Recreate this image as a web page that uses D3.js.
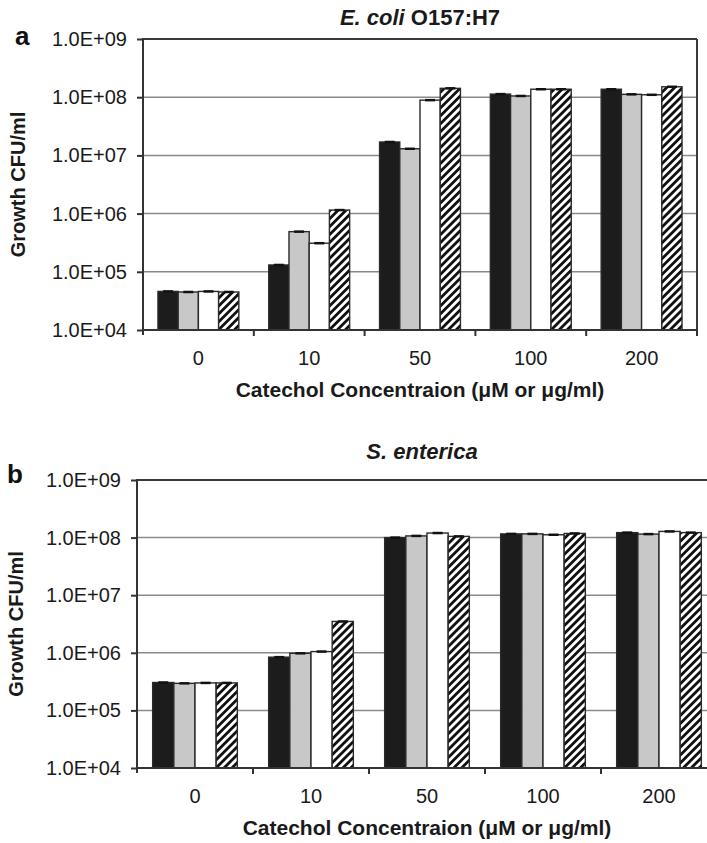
<!DOCTYPE html>
<html>
<head>
<meta charset="utf-8">
<script src="https://cdn.jsdelivr.net/npm/d3@7"></script>
<style>
  body { margin: 0; background: #fff; }
  svg { display: block; font-family: "Liberation Sans", Arial, sans-serif; }
</style>
</head>
<body>
<svg id="chart" width="707" height="843"></svg>
<script>
// categories (catechol concentration)
const concentrations = ["0", "10", "50", "100", "200"];
const yTicks = [1e4, 1e5, 1e6, 1e7, 1e8, 1e9];

// E. coli O157:H7, one array per bar series
const ecoliBlack   = [4.6e4, 1.31e5, 1.70e7, 1.13e8, 1.37e8];
const ecoliGray    = [4.5e4, 4.9e5, 1.30e7, 1.05e8, 1.12e8];
const ecoliWhite   = [4.6e4, 3.1e5, 8.9e7, 1.37e8, 1.10e8];
const ecoliHatched = [4.5e4, 1.15e6, 1.42e8, 1.37e8, 1.51e8];

// S. enterica
const entericaBlack   = [3.05e5, 8.4e5, 1.00e8, 1.16e8, 1.22e8];
const entericaGray    = [2.95e5, 9.8e5, 1.07e8, 1.16e8, 1.15e8];
const entericaWhite   = [3.0e5, 1.05e6, 1.20e8, 1.12e8, 1.28e8];
const entericaHatched = [3.0e5, 3.5e6, 1.05e8, 1.18e8, 1.22e8];

const seriesKeys = ["black", "gray", "white", "hatched"];
const fills = { black: "#1c1c1c", gray: "#c8c8c8", white: "#ffffff", hatched: "url(#hatch)" };

const svg = d3.select("#chart");

// diagonal hatch
const defs = svg.append("defs");
const pat = defs.append("pattern")
    .attr("id", "hatch")
    .attr("patternUnits", "userSpaceOnUse")
    .attr("width", 5.6).attr("height", 5.6)
    .attr("patternTransform", "rotate(45)");
pat.append("rect").attr("width", 5.6).attr("height", 5.6).attr("fill", "#fff");
pat.append("rect").attr("width", 2.8).attr("height", 5.6).attr("fill", "#111");

function drawPanel(p) {
    const values = { black: p.black, gray: p.gray, white: p.white, hatched: p.hatched };

    const x = d3.scaleBand().domain(concentrations).range([p.left, p.left + p.step * 5]);
    const xs = d3.scaleBand().domain(seriesKeys).range([0, x.bandwidth()]).paddingOuter(0.74);
    const y = d3.scaleLog().domain([1e4, 1e9]).range([p.bottom, p.top]);

    const g = svg.append("g");

    // gridlines
    g.selectAll(".grid")
        .data(yTicks.slice(1, 5))
        .enter().append("line")
        .attr("x1", p.left).attr("x2", p.right)
        .attr("y1", d => y(d)).attr("y2", d => y(d))
        .attr("stroke", "#8a8a8a").attr("stroke-width", 1.5);
    // top border
    g.append("line")
        .attr("x1", p.left).attr("x2", p.right)
        .attr("y1", y(1e9)).attr("y2", y(1e9))
        .attr("stroke", "#3a3a3a").attr("stroke-width", 2);
    if (p.rightBorder) {
        g.append("line")
            .attr("x1", p.right).attr("x2", p.right)
            .attr("y1", y(1e9)).attr("y2", y(1e4))
            .attr("stroke", "#3a3a3a").attr("stroke-width", 2);
    }

    // bars
    const rows = [];
    concentrations.forEach((c, i) => {
        seriesKeys.forEach(k => rows.push({ c: c, k: k, v: values[k][i] }));
    });
    g.selectAll(".bar")
        .data(rows)
        .enter().append("rect")
        .attr("x", d => x(d.c) + xs(d.k))
        .attr("y", d => y(d.v))
        .attr("width", xs.bandwidth())
        .attr("height", d => y(1e4) - y(d.v))
        .attr("fill", d => fills[d.k])
        .attr("stroke", "#2a2a2a")
        .attr("stroke-width", 1.4);
    // error caps
    g.selectAll(".cap")
        .data(rows)
        .enter().append("line")
        .attr("x1", d => x(d.c) + xs(d.k) + xs.bandwidth() / 2 - 5)
        .attr("x2", d => x(d.c) + xs(d.k) + xs.bandwidth() / 2 + 5)
        .attr("y1", d => y(d.v)).attr("y2", d => y(d.v))
        .attr("stroke", "#111").attr("stroke-width", 2.5);

    // y axis
    const ya = g.append("g")
        .attr("transform", `translate(${p.left},0)`)
        .call(d3.axisLeft(y).tickValues(yTicks)
            .tickFormat(d => "1.0E+" + d3.format("02d")(Math.round(Math.log10(d))))
            .tickSize(6).tickPadding(10));
    ya.select(".domain").remove();
    ya.selectAll("line").attr("stroke", "#333").attr("stroke-width", 2);
    ya.selectAll("text").attr("font-size", 20).attr("fill", "#1a1a1a")
        .attr("font-family", "Liberation Sans, Arial, sans-serif");
    g.append("line")
        .attr("x1", p.left).attr("x2", p.left)
        .attr("y1", y(1e9) - 1).attr("y2", y(1e4) + 5)
        .attr("stroke", "#333").attr("stroke-width", 2);

    // x axis
    const xa = g.append("g")
        .attr("transform", `translate(0,${p.bottom})`)
        .call(d3.axisBottom(x).tickSize(0).tickPadding(21));
    xa.select(".domain").remove();
    xa.selectAll("text").attr("font-size", 20).attr("fill", "#1a1a1a")
        .attr("font-family", "Liberation Sans, Arial, sans-serif");
    g.append("line")
        .attr("x1", p.left).attr("x2", p.left + p.step * 5)
        .attr("y1", p.bottom).attr("y2", p.bottom)
        .attr("stroke", "#333").attr("stroke-width", 2);
    g.selectAll(".xtick")
        .data(concentrations.slice(1))
        .enter().append("line")
        .attr("x1", d => x(d)).attr("x2", d => x(d))
        .attr("y1", p.bottom).attr("y2", p.bottom + 6)
        .attr("stroke", "#333").attr("stroke-width", 2);
    if (p.rightBorder) {
        g.append("line")
            .attr("x1", p.right).attr("x2", p.right)
            .attr("y1", p.bottom).attr("y2", p.bottom + 6)
            .attr("stroke", "#333").attr("stroke-width", 2);
    }

    const cx = p.left + p.step * 2.5;
    // x axis title
    g.append("text")
        .attr("x", cx).attr("y", p.bottom + 67)
        .attr("text-anchor", "middle")
        .attr("font-size", 21).attr("font-weight", "bold").attr("fill", "#1a1a1a")
        .text("Catechol Concentraion (\u03bcM or \u03bcg/ml)");

    // y axis title
    g.append("text")
        .attr("transform", `translate(${p.yLabelX},${(p.top + p.bottom) / 2}) rotate(-90)`)
        .attr("text-anchor", "middle")
        .attr("font-size", 20).attr("font-weight", "bold").attr("fill", "#1a1a1a")
        .text("Growth CFU/ml");

    // panel title
    const t = g.append("text")
        .attr("x", p.titleX).attr("y", p.titleY)
        .attr("text-anchor", "middle")
        .attr("font-size", 22).attr("font-weight", "bold").attr("fill", "#1a1a1a");
    p.title.forEach(part => {
        t.append("tspan").attr("font-style", part.italic ? "italic" : "normal").text(part.text);
    });

    // panel letter
    g.append("text")
        .attr("x", p.letterX).attr("y", p.letterY)
        .attr("font-size", 26).attr("font-weight", "bold").attr("fill", "#111")
        .text(p.letter);
}

drawPanel({
    letter: "a", letterX: 15, letterY: 45,
    title: [{ text: "E. coli", italic: true }, { text: " O157:H7", italic: false }],
    titleX: 420, titleY: 25,
    left: 143, right: 697, step: 110.8, top: 39, bottom: 330,
    rightBorder: true, yLabelX: 25,
    black: ecoliBlack, gray: ecoliGray, white: ecoliWhite, hatched: ecoliHatched
});

drawPanel({
    letter: "b", letterX: 7, letterY: 483,
    title: [{ text: "S. enterica", italic: true }],
    titleX: 422, titleY: 459,
    left: 137, right: 717, step: 116, top: 480, bottom: 768,
    rightBorder: false, yLabelX: 23,
    black: entericaBlack, gray: entericaGray, white: entericaWhite, hatched: entericaHatched
});
</script>
</body>
</html>
